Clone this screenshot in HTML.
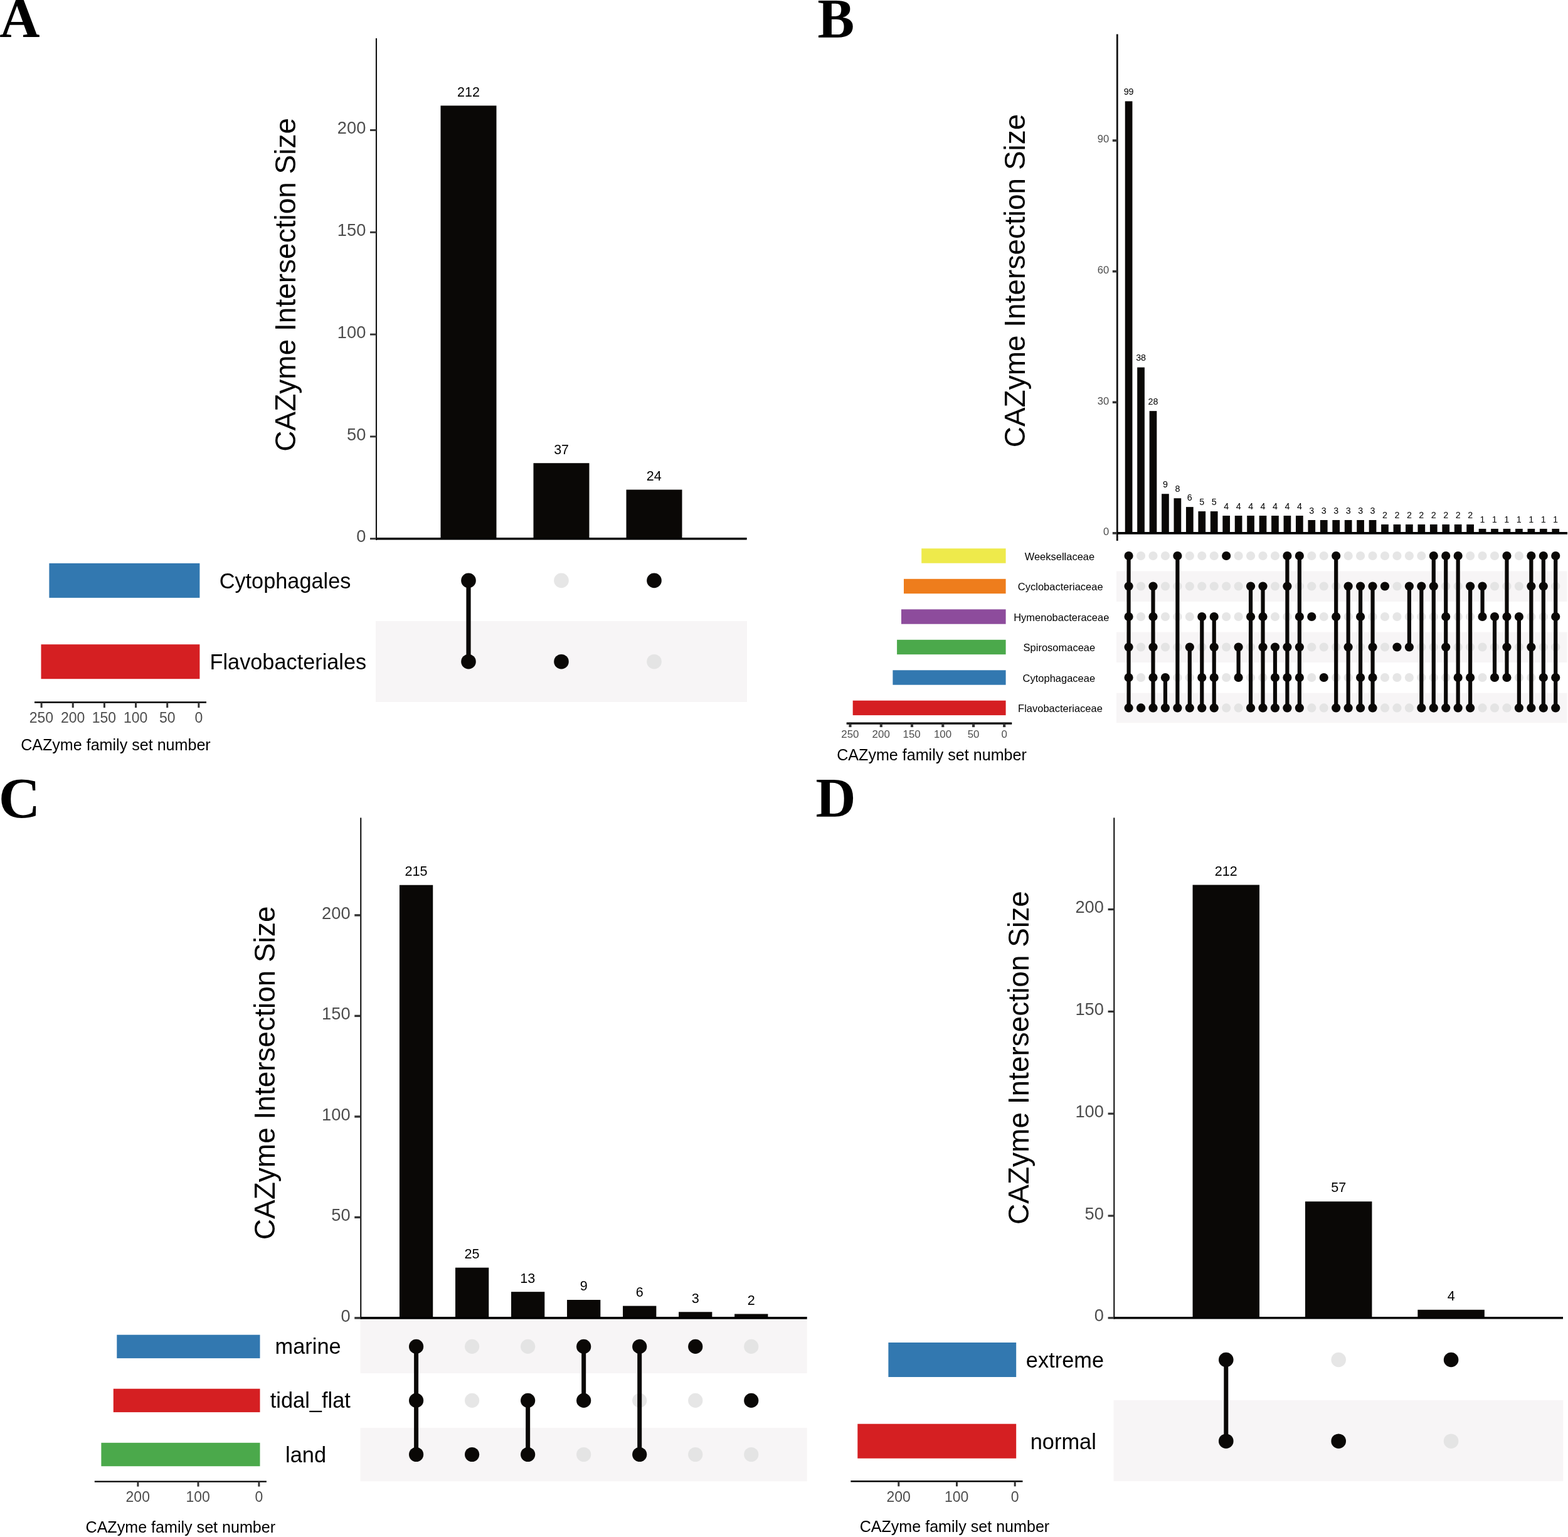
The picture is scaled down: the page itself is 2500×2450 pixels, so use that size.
<!DOCTYPE html><html><head><meta charset="utf-8"><style>html,body{margin:0;padding:0;background:#fff;}svg{display:block;}.f1{font-family:"Liberation Sans",Arial,Helvetica,sans-serif}.f2{font-family:"Liberation Serif","Times New Roman",serif;font-weight:bold}</style></head><body>
<svg width="2500" height="2450" viewBox="0 0 2500 2450">
<rect width="2500" height="2450" fill="#fff"/>
<text class="f2" x="-0.87" y="58.40" font-size="89" fill="#000">A</text>
<text class="f2" x="1303.44" y="59.30" font-size="88" fill="#000">B</text>
<text class="f2" x="-2.29" y="1302.80" font-size="92" fill="#000">C</text>
<text class="f2" x="1300.54" y="1301.20" font-size="88.5" fill="#000">D</text>
<rect x="599.00" y="990.00" width="592.00" height="129.00" fill="#f7f5f6"/>
<rect x="702.50" y="168.39" width="89.00" height="690.31" fill="#0a0806"/>
<text class="f1" x="729.06" y="153.69" font-size="21.5" fill="#000">212</text>
<rect x="850.50" y="738.22" width="89.00" height="120.48" fill="#0a0806"/>
<text class="f1" x="883.17" y="723.52" font-size="21.5" fill="#000">37</text>
<rect x="998.50" y="780.55" width="89.00" height="78.15" fill="#0a0806"/>
<text class="f1" x="1030.82" y="765.85" font-size="21.5" fill="#000">24</text>
<line x1="600.00" y1="61.00" x2="600.00" y2="861.00" stroke="#111" stroke-width="2.1"/>
<line x1="590.00" y1="858.70" x2="600.00" y2="858.70" stroke="#333333" stroke-width="2.9"/>
<text class="f1" x="568.18" y="864.40" font-size="27.3" fill="#4d4d4d">0</text>
<line x1="590.00" y1="695.89" x2="600.00" y2="695.89" stroke="#333333" stroke-width="2.9"/>
<text class="f1" x="553.00" y="701.59" font-size="27.3" fill="#4d4d4d">50</text>
<line x1="590.00" y1="533.08" x2="600.00" y2="533.08" stroke="#333333" stroke-width="2.9"/>
<text class="f1" x="537.82" y="538.78" font-size="27.3" fill="#4d4d4d">100</text>
<line x1="590.00" y1="370.27" x2="600.00" y2="370.27" stroke="#333333" stroke-width="2.9"/>
<text class="f1" x="537.82" y="375.97" font-size="27.3" fill="#4d4d4d">150</text>
<line x1="590.00" y1="207.46" x2="600.00" y2="207.46" stroke="#333333" stroke-width="2.9"/>
<text class="f1" x="537.82" y="213.16" font-size="27.3" fill="#4d4d4d">200</text>
<line x1="600.00" y1="858.70" x2="1190.70" y2="858.70" stroke="#000" stroke-width="3.4"/>
<text class="f1" x="471.30" y="719.64" font-size="46" fill="#000" transform="rotate(-90 471.30 719.64)">CAZyme Intersection Size</text>
<line x1="747.00" y1="925.40" x2="747.00" y2="1054.70" stroke="#0a0806" stroke-width="7.2"/>
<circle cx="747.00" cy="925.40" r="11.8" fill="#0a0806"/>
<circle cx="747.00" cy="1054.70" r="11.8" fill="#0a0806"/>
<circle cx="895.00" cy="925.40" r="11.8" fill="#e6e6e6"/>
<circle cx="895.00" cy="1054.70" r="11.8" fill="#0a0806"/>
<circle cx="1043.00" cy="1054.70" r="11.8" fill="#e4e4e4"/>
<circle cx="1043.00" cy="925.40" r="11.8" fill="#0a0806"/>
<rect x="78.40" y="897.90" width="240.00" height="55.00" fill="#3278b0"/>
<rect x="65.50" y="1027.20" width="252.90" height="55.00" fill="#d51f22"/>
<text class="f1" x="349.66" y="938.00" font-size="34.3" fill="#000">Cytophagales</text>
<text class="f1" x="334.49" y="1067.00" font-size="34.3" fill="#000">Flavobacteriales</text>
<line x1="55.00" y1="1119.50" x2="329.00" y2="1119.50" stroke="#000" stroke-width="2.4"/>
<line x1="66.10" y1="1119.50" x2="66.10" y2="1128.10" stroke="#333333" stroke-width="3"/>
<text class="f1" x="46.78" y="1151.80" font-size="23" fill="#4d4d4d">250</text>
<line x1="116.25" y1="1119.50" x2="116.25" y2="1128.10" stroke="#333333" stroke-width="3"/>
<text class="f1" x="96.93" y="1151.80" font-size="23" fill="#4d4d4d">200</text>
<line x1="166.40" y1="1119.50" x2="166.40" y2="1128.10" stroke="#333333" stroke-width="3"/>
<text class="f1" x="146.79" y="1151.80" font-size="23" fill="#4d4d4d">150</text>
<line x1="216.55" y1="1119.50" x2="216.55" y2="1128.10" stroke="#333333" stroke-width="3"/>
<text class="f1" x="196.94" y="1151.80" font-size="23" fill="#4d4d4d">100</text>
<line x1="266.70" y1="1119.50" x2="266.70" y2="1128.10" stroke="#333333" stroke-width="3"/>
<text class="f1" x="253.90" y="1151.80" font-size="23" fill="#4d4d4d">50</text>
<line x1="316.85" y1="1119.50" x2="316.85" y2="1128.10" stroke="#333333" stroke-width="3"/>
<text class="f1" x="310.45" y="1151.80" font-size="23" fill="#4d4d4d">0</text>
<text class="f1" x="33.13" y="1196.20" font-size="25.1" fill="#000">CAZyme family set number</text>
<rect x="1780.00" y="910.50" width="718.50" height="48.50" fill="#f7f5f6"/>
<rect x="1780.00" y="1007.60" width="718.50" height="48.40" fill="#f7f5f6"/>
<rect x="1780.00" y="1104.70" width="718.50" height="47.60" fill="#f7f5f6"/>
<rect x="1793.75" y="161.40" width="11.70" height="688.45" fill="#0a0806"/>
<text class="f1" x="1791.65" y="151.10" font-size="14.3" fill="#000">99</text>
<rect x="1813.20" y="585.60" width="11.70" height="264.25" fill="#0a0806"/>
<text class="f1" x="1811.13" y="575.30" font-size="14.3" fill="#000">38</text>
<rect x="1832.64" y="655.14" width="11.70" height="194.71" fill="#0a0806"/>
<text class="f1" x="1830.49" y="644.84" font-size="14.3" fill="#000">28</text>
<rect x="1852.09" y="787.26" width="11.70" height="62.59" fill="#0a0806"/>
<text class="f1" x="1853.97" y="776.96" font-size="14.3" fill="#000">9</text>
<rect x="1871.54" y="794.22" width="11.70" height="55.63" fill="#0a0806"/>
<text class="f1" x="1873.41" y="783.92" font-size="14.3" fill="#000">8</text>
<rect x="1890.98" y="808.13" width="11.70" height="41.72" fill="#0a0806"/>
<text class="f1" x="1892.81" y="797.83" font-size="14.3" fill="#000">6</text>
<rect x="1910.43" y="815.08" width="11.70" height="34.77" fill="#0a0806"/>
<text class="f1" x="1912.32" y="804.78" font-size="14.3" fill="#000">5</text>
<rect x="1929.88" y="815.08" width="11.70" height="34.77" fill="#0a0806"/>
<text class="f1" x="1931.77" y="804.78" font-size="14.3" fill="#000">5</text>
<rect x="1949.33" y="822.03" width="11.70" height="27.82" fill="#0a0806"/>
<text class="f1" x="1951.24" y="811.73" font-size="14.3" fill="#000">4</text>
<rect x="1968.77" y="822.03" width="11.70" height="27.82" fill="#0a0806"/>
<text class="f1" x="1970.69" y="811.73" font-size="14.3" fill="#000">4</text>
<rect x="1988.22" y="822.03" width="11.70" height="27.82" fill="#0a0806"/>
<text class="f1" x="1990.14" y="811.73" font-size="14.3" fill="#000">4</text>
<rect x="2007.67" y="822.03" width="11.70" height="27.82" fill="#0a0806"/>
<text class="f1" x="2009.59" y="811.73" font-size="14.3" fill="#000">4</text>
<rect x="2027.11" y="822.03" width="11.70" height="27.82" fill="#0a0806"/>
<text class="f1" x="2029.03" y="811.73" font-size="14.3" fill="#000">4</text>
<rect x="2046.56" y="822.03" width="11.70" height="27.82" fill="#0a0806"/>
<text class="f1" x="2048.48" y="811.73" font-size="14.3" fill="#000">4</text>
<rect x="2066.01" y="822.03" width="11.70" height="27.82" fill="#0a0806"/>
<text class="f1" x="2067.93" y="811.73" font-size="14.3" fill="#000">4</text>
<rect x="2085.45" y="828.99" width="11.70" height="20.86" fill="#0a0806"/>
<text class="f1" x="2087.37" y="818.69" font-size="14.3" fill="#000">3</text>
<rect x="2104.90" y="828.99" width="11.70" height="20.86" fill="#0a0806"/>
<text class="f1" x="2106.82" y="818.69" font-size="14.3" fill="#000">3</text>
<rect x="2124.35" y="828.99" width="11.70" height="20.86" fill="#0a0806"/>
<text class="f1" x="2126.26" y="818.69" font-size="14.3" fill="#000">3</text>
<rect x="2143.80" y="828.99" width="11.70" height="20.86" fill="#0a0806"/>
<text class="f1" x="2145.71" y="818.69" font-size="14.3" fill="#000">3</text>
<rect x="2163.24" y="828.99" width="11.70" height="20.86" fill="#0a0806"/>
<text class="f1" x="2165.16" y="818.69" font-size="14.3" fill="#000">3</text>
<rect x="2182.69" y="828.99" width="11.70" height="20.86" fill="#0a0806"/>
<text class="f1" x="2184.61" y="818.69" font-size="14.3" fill="#000">3</text>
<rect x="2202.14" y="835.94" width="11.70" height="13.91" fill="#0a0806"/>
<text class="f1" x="2204.01" y="825.64" font-size="14.3" fill="#000">2</text>
<rect x="2221.58" y="835.94" width="11.70" height="13.91" fill="#0a0806"/>
<text class="f1" x="2223.46" y="825.64" font-size="14.3" fill="#000">2</text>
<rect x="2241.03" y="835.94" width="11.70" height="13.91" fill="#0a0806"/>
<text class="f1" x="2242.90" y="825.64" font-size="14.3" fill="#000">2</text>
<rect x="2260.48" y="835.94" width="11.70" height="13.91" fill="#0a0806"/>
<text class="f1" x="2262.35" y="825.64" font-size="14.3" fill="#000">2</text>
<rect x="2279.92" y="835.94" width="11.70" height="13.91" fill="#0a0806"/>
<text class="f1" x="2281.80" y="825.64" font-size="14.3" fill="#000">2</text>
<rect x="2299.37" y="835.94" width="11.70" height="13.91" fill="#0a0806"/>
<text class="f1" x="2301.25" y="825.64" font-size="14.3" fill="#000">2</text>
<rect x="2318.82" y="835.94" width="11.70" height="13.91" fill="#0a0806"/>
<text class="f1" x="2320.69" y="825.64" font-size="14.3" fill="#000">2</text>
<rect x="2338.27" y="835.94" width="11.70" height="13.91" fill="#0a0806"/>
<text class="f1" x="2340.14" y="825.64" font-size="14.3" fill="#000">2</text>
<rect x="2357.71" y="842.90" width="11.70" height="6.95" fill="#0a0806"/>
<text class="f1" x="2359.39" y="832.60" font-size="14.3" fill="#000">1</text>
<rect x="2377.16" y="842.90" width="11.70" height="6.95" fill="#0a0806"/>
<text class="f1" x="2378.84" y="832.60" font-size="14.3" fill="#000">1</text>
<rect x="2396.61" y="842.90" width="11.70" height="6.95" fill="#0a0806"/>
<text class="f1" x="2398.29" y="832.60" font-size="14.3" fill="#000">1</text>
<rect x="2416.05" y="842.90" width="11.70" height="6.95" fill="#0a0806"/>
<text class="f1" x="2417.73" y="832.60" font-size="14.3" fill="#000">1</text>
<rect x="2435.50" y="842.90" width="11.70" height="6.95" fill="#0a0806"/>
<text class="f1" x="2437.18" y="832.60" font-size="14.3" fill="#000">1</text>
<rect x="2454.95" y="842.90" width="11.70" height="6.95" fill="#0a0806"/>
<text class="f1" x="2456.63" y="832.60" font-size="14.3" fill="#000">1</text>
<rect x="2474.39" y="842.90" width="11.70" height="6.95" fill="#0a0806"/>
<text class="f1" x="2476.07" y="832.60" font-size="14.3" fill="#000">1</text>
<line x1="1781.30" y1="54.40" x2="1781.30" y2="862.00" stroke="#111" stroke-width="2.8"/>
<line x1="1773.80" y1="849.85" x2="1781.30" y2="849.85" stroke="#333333" stroke-width="3.6"/>
<text class="f1" x="1759.02" y="853.35" font-size="16.6" fill="#4d4d4d">0</text>
<line x1="1773.80" y1="641.23" x2="1781.30" y2="641.23" stroke="#333333" stroke-width="3.6"/>
<text class="f1" x="1749.78" y="644.73" font-size="16.6" fill="#4d4d4d">30</text>
<line x1="1773.80" y1="432.61" x2="1781.30" y2="432.61" stroke="#333333" stroke-width="3.6"/>
<text class="f1" x="1749.78" y="436.11" font-size="16.6" fill="#4d4d4d">60</text>
<line x1="1773.80" y1="223.99" x2="1781.30" y2="223.99" stroke="#333333" stroke-width="3.6"/>
<text class="f1" x="1749.78" y="227.49" font-size="16.6" fill="#4d4d4d">90</text>
<line x1="1781.00" y1="849.85" x2="2499.00" y2="849.85" stroke="#000" stroke-width="3.9"/>
<text class="f1" x="1633.80" y="713.34" font-size="46" fill="#000" transform="rotate(-90 1633.80 713.34)">CAZyme Intersection Size</text>
<line x1="1799.60" y1="886.00" x2="1799.60" y2="1128.40" stroke="#0a0806" stroke-width="6.2"/>
<circle cx="1799.60" cy="886.00" r="7.1" fill="#0a0806"/>
<circle cx="1799.60" cy="934.50" r="7.1" fill="#0a0806"/>
<circle cx="1799.60" cy="983.00" r="7.1" fill="#0a0806"/>
<circle cx="1799.60" cy="1031.50" r="7.1" fill="#0a0806"/>
<circle cx="1799.60" cy="1080.00" r="7.1" fill="#0a0806"/>
<circle cx="1799.60" cy="1128.40" r="7.1" fill="#0a0806"/>
<circle cx="1819.05" cy="886.00" r="7.1" fill="#e6e6e6"/>
<circle cx="1819.05" cy="934.50" r="7.1" fill="#e4e4e4"/>
<circle cx="1819.05" cy="983.00" r="7.1" fill="#e6e6e6"/>
<circle cx="1819.05" cy="1031.50" r="7.1" fill="#e4e4e4"/>
<circle cx="1819.05" cy="1080.00" r="7.1" fill="#e6e6e6"/>
<circle cx="1819.05" cy="1128.40" r="7.1" fill="#0a0806"/>
<circle cx="1838.49" cy="886.00" r="7.1" fill="#e6e6e6"/>
<line x1="1838.49" y1="934.50" x2="1838.49" y2="1128.40" stroke="#0a0806" stroke-width="6.2"/>
<circle cx="1838.49" cy="934.50" r="7.1" fill="#0a0806"/>
<circle cx="1838.49" cy="983.00" r="7.1" fill="#0a0806"/>
<circle cx="1838.49" cy="1031.50" r="7.1" fill="#0a0806"/>
<circle cx="1838.49" cy="1080.00" r="7.1" fill="#0a0806"/>
<circle cx="1838.49" cy="1128.40" r="7.1" fill="#0a0806"/>
<circle cx="1857.94" cy="886.00" r="7.1" fill="#e6e6e6"/>
<circle cx="1857.94" cy="934.50" r="7.1" fill="#e4e4e4"/>
<circle cx="1857.94" cy="983.00" r="7.1" fill="#e6e6e6"/>
<circle cx="1857.94" cy="1031.50" r="7.1" fill="#e4e4e4"/>
<line x1="1857.94" y1="1080.00" x2="1857.94" y2="1128.40" stroke="#0a0806" stroke-width="6.2"/>
<circle cx="1857.94" cy="1080.00" r="7.1" fill="#0a0806"/>
<circle cx="1857.94" cy="1128.40" r="7.1" fill="#0a0806"/>
<circle cx="1877.39" cy="934.50" r="7.1" fill="#e4e4e4"/>
<circle cx="1877.39" cy="983.00" r="7.1" fill="#e6e6e6"/>
<circle cx="1877.39" cy="1031.50" r="7.1" fill="#e4e4e4"/>
<circle cx="1877.39" cy="1080.00" r="7.1" fill="#e6e6e6"/>
<line x1="1877.39" y1="886.00" x2="1877.39" y2="1128.40" stroke="#0a0806" stroke-width="6.2"/>
<circle cx="1877.39" cy="886.00" r="7.1" fill="#0a0806"/>
<circle cx="1877.39" cy="1128.40" r="7.1" fill="#0a0806"/>
<circle cx="1896.83" cy="886.00" r="7.1" fill="#e6e6e6"/>
<circle cx="1896.83" cy="934.50" r="7.1" fill="#e4e4e4"/>
<circle cx="1896.83" cy="983.00" r="7.1" fill="#e6e6e6"/>
<circle cx="1896.83" cy="1080.00" r="7.1" fill="#e6e6e6"/>
<line x1="1896.83" y1="1031.50" x2="1896.83" y2="1128.40" stroke="#0a0806" stroke-width="6.2"/>
<circle cx="1896.83" cy="1031.50" r="7.1" fill="#0a0806"/>
<circle cx="1896.83" cy="1128.40" r="7.1" fill="#0a0806"/>
<circle cx="1916.28" cy="886.00" r="7.1" fill="#e6e6e6"/>
<circle cx="1916.28" cy="934.50" r="7.1" fill="#e4e4e4"/>
<circle cx="1916.28" cy="1031.50" r="7.1" fill="#e4e4e4"/>
<line x1="1916.28" y1="983.00" x2="1916.28" y2="1128.40" stroke="#0a0806" stroke-width="6.2"/>
<circle cx="1916.28" cy="983.00" r="7.1" fill="#0a0806"/>
<circle cx="1916.28" cy="1080.00" r="7.1" fill="#0a0806"/>
<circle cx="1916.28" cy="1128.40" r="7.1" fill="#0a0806"/>
<circle cx="1935.73" cy="886.00" r="7.1" fill="#e6e6e6"/>
<circle cx="1935.73" cy="934.50" r="7.1" fill="#e4e4e4"/>
<line x1="1935.73" y1="983.00" x2="1935.73" y2="1128.40" stroke="#0a0806" stroke-width="6.2"/>
<circle cx="1935.73" cy="983.00" r="7.1" fill="#0a0806"/>
<circle cx="1935.73" cy="1031.50" r="7.1" fill="#0a0806"/>
<circle cx="1935.73" cy="1080.00" r="7.1" fill="#0a0806"/>
<circle cx="1935.73" cy="1128.40" r="7.1" fill="#0a0806"/>
<circle cx="1955.18" cy="934.50" r="7.1" fill="#e4e4e4"/>
<circle cx="1955.18" cy="983.00" r="7.1" fill="#e6e6e6"/>
<circle cx="1955.18" cy="1031.50" r="7.1" fill="#e4e4e4"/>
<circle cx="1955.18" cy="1080.00" r="7.1" fill="#e6e6e6"/>
<circle cx="1955.18" cy="1128.40" r="7.1" fill="#e4e4e4"/>
<circle cx="1955.18" cy="886.00" r="7.1" fill="#0a0806"/>
<circle cx="1974.62" cy="886.00" r="7.1" fill="#e6e6e6"/>
<circle cx="1974.62" cy="934.50" r="7.1" fill="#e4e4e4"/>
<circle cx="1974.62" cy="983.00" r="7.1" fill="#e6e6e6"/>
<circle cx="1974.62" cy="1128.40" r="7.1" fill="#e4e4e4"/>
<line x1="1974.62" y1="1031.50" x2="1974.62" y2="1080.00" stroke="#0a0806" stroke-width="6.2"/>
<circle cx="1974.62" cy="1031.50" r="7.1" fill="#0a0806"/>
<circle cx="1974.62" cy="1080.00" r="7.1" fill="#0a0806"/>
<circle cx="1994.07" cy="886.00" r="7.1" fill="#e6e6e6"/>
<circle cx="1994.07" cy="1031.50" r="7.1" fill="#e4e4e4"/>
<circle cx="1994.07" cy="1080.00" r="7.1" fill="#e6e6e6"/>
<line x1="1994.07" y1="934.50" x2="1994.07" y2="1128.40" stroke="#0a0806" stroke-width="6.2"/>
<circle cx="1994.07" cy="934.50" r="7.1" fill="#0a0806"/>
<circle cx="1994.07" cy="983.00" r="7.1" fill="#0a0806"/>
<circle cx="1994.07" cy="1128.40" r="7.1" fill="#0a0806"/>
<circle cx="2013.52" cy="886.00" r="7.1" fill="#e6e6e6"/>
<circle cx="2013.52" cy="1080.00" r="7.1" fill="#e6e6e6"/>
<line x1="2013.52" y1="934.50" x2="2013.52" y2="1128.40" stroke="#0a0806" stroke-width="6.2"/>
<circle cx="2013.52" cy="934.50" r="7.1" fill="#0a0806"/>
<circle cx="2013.52" cy="983.00" r="7.1" fill="#0a0806"/>
<circle cx="2013.52" cy="1031.50" r="7.1" fill="#0a0806"/>
<circle cx="2013.52" cy="1128.40" r="7.1" fill="#0a0806"/>
<circle cx="2032.96" cy="886.00" r="7.1" fill="#e6e6e6"/>
<circle cx="2032.96" cy="934.50" r="7.1" fill="#e4e4e4"/>
<circle cx="2032.96" cy="983.00" r="7.1" fill="#e6e6e6"/>
<line x1="2032.96" y1="1031.50" x2="2032.96" y2="1128.40" stroke="#0a0806" stroke-width="6.2"/>
<circle cx="2032.96" cy="1031.50" r="7.1" fill="#0a0806"/>
<circle cx="2032.96" cy="1080.00" r="7.1" fill="#0a0806"/>
<circle cx="2032.96" cy="1128.40" r="7.1" fill="#0a0806"/>
<circle cx="2052.41" cy="983.00" r="7.1" fill="#e6e6e6"/>
<line x1="2052.41" y1="886.00" x2="2052.41" y2="1128.40" stroke="#0a0806" stroke-width="6.2"/>
<circle cx="2052.41" cy="886.00" r="7.1" fill="#0a0806"/>
<circle cx="2052.41" cy="934.50" r="7.1" fill="#0a0806"/>
<circle cx="2052.41" cy="1031.50" r="7.1" fill="#0a0806"/>
<circle cx="2052.41" cy="1080.00" r="7.1" fill="#0a0806"/>
<circle cx="2052.41" cy="1128.40" r="7.1" fill="#0a0806"/>
<circle cx="2071.86" cy="934.50" r="7.1" fill="#e4e4e4"/>
<line x1="2071.86" y1="886.00" x2="2071.86" y2="1128.40" stroke="#0a0806" stroke-width="6.2"/>
<circle cx="2071.86" cy="886.00" r="7.1" fill="#0a0806"/>
<circle cx="2071.86" cy="983.00" r="7.1" fill="#0a0806"/>
<circle cx="2071.86" cy="1031.50" r="7.1" fill="#0a0806"/>
<circle cx="2071.86" cy="1080.00" r="7.1" fill="#0a0806"/>
<circle cx="2071.86" cy="1128.40" r="7.1" fill="#0a0806"/>
<circle cx="2091.30" cy="886.00" r="7.1" fill="#e6e6e6"/>
<circle cx="2091.30" cy="934.50" r="7.1" fill="#e4e4e4"/>
<circle cx="2091.30" cy="1031.50" r="7.1" fill="#e4e4e4"/>
<circle cx="2091.30" cy="1080.00" r="7.1" fill="#e6e6e6"/>
<circle cx="2091.30" cy="1128.40" r="7.1" fill="#e4e4e4"/>
<circle cx="2091.30" cy="983.00" r="7.1" fill="#0a0806"/>
<circle cx="2110.75" cy="886.00" r="7.1" fill="#e6e6e6"/>
<circle cx="2110.75" cy="934.50" r="7.1" fill="#e4e4e4"/>
<circle cx="2110.75" cy="983.00" r="7.1" fill="#e6e6e6"/>
<circle cx="2110.75" cy="1031.50" r="7.1" fill="#e4e4e4"/>
<circle cx="2110.75" cy="1128.40" r="7.1" fill="#e4e4e4"/>
<circle cx="2110.75" cy="1080.00" r="7.1" fill="#0a0806"/>
<circle cx="2130.20" cy="934.50" r="7.1" fill="#e4e4e4"/>
<circle cx="2130.20" cy="1031.50" r="7.1" fill="#e4e4e4"/>
<circle cx="2130.20" cy="1080.00" r="7.1" fill="#e6e6e6"/>
<line x1="2130.20" y1="886.00" x2="2130.20" y2="1128.40" stroke="#0a0806" stroke-width="6.2"/>
<circle cx="2130.20" cy="886.00" r="7.1" fill="#0a0806"/>
<circle cx="2130.20" cy="983.00" r="7.1" fill="#0a0806"/>
<circle cx="2130.20" cy="1128.40" r="7.1" fill="#0a0806"/>
<circle cx="2149.65" cy="886.00" r="7.1" fill="#e6e6e6"/>
<circle cx="2149.65" cy="983.00" r="7.1" fill="#e6e6e6"/>
<circle cx="2149.65" cy="1080.00" r="7.1" fill="#e6e6e6"/>
<line x1="2149.65" y1="934.50" x2="2149.65" y2="1128.40" stroke="#0a0806" stroke-width="6.2"/>
<circle cx="2149.65" cy="934.50" r="7.1" fill="#0a0806"/>
<circle cx="2149.65" cy="1031.50" r="7.1" fill="#0a0806"/>
<circle cx="2149.65" cy="1128.40" r="7.1" fill="#0a0806"/>
<circle cx="2169.09" cy="886.00" r="7.1" fill="#e6e6e6"/>
<circle cx="2169.09" cy="1031.50" r="7.1" fill="#e4e4e4"/>
<line x1="2169.09" y1="934.50" x2="2169.09" y2="1128.40" stroke="#0a0806" stroke-width="6.2"/>
<circle cx="2169.09" cy="934.50" r="7.1" fill="#0a0806"/>
<circle cx="2169.09" cy="983.00" r="7.1" fill="#0a0806"/>
<circle cx="2169.09" cy="1080.00" r="7.1" fill="#0a0806"/>
<circle cx="2169.09" cy="1128.40" r="7.1" fill="#0a0806"/>
<circle cx="2188.54" cy="886.00" r="7.1" fill="#e6e6e6"/>
<circle cx="2188.54" cy="983.00" r="7.1" fill="#e6e6e6"/>
<line x1="2188.54" y1="934.50" x2="2188.54" y2="1128.40" stroke="#0a0806" stroke-width="6.2"/>
<circle cx="2188.54" cy="934.50" r="7.1" fill="#0a0806"/>
<circle cx="2188.54" cy="1031.50" r="7.1" fill="#0a0806"/>
<circle cx="2188.54" cy="1080.00" r="7.1" fill="#0a0806"/>
<circle cx="2188.54" cy="1128.40" r="7.1" fill="#0a0806"/>
<circle cx="2207.99" cy="886.00" r="7.1" fill="#e6e6e6"/>
<circle cx="2207.99" cy="983.00" r="7.1" fill="#e6e6e6"/>
<circle cx="2207.99" cy="1031.50" r="7.1" fill="#e4e4e4"/>
<circle cx="2207.99" cy="1080.00" r="7.1" fill="#e6e6e6"/>
<circle cx="2207.99" cy="1128.40" r="7.1" fill="#e4e4e4"/>
<circle cx="2207.99" cy="934.50" r="7.1" fill="#0a0806"/>
<circle cx="2227.43" cy="886.00" r="7.1" fill="#e6e6e6"/>
<circle cx="2227.43" cy="934.50" r="7.1" fill="#e4e4e4"/>
<circle cx="2227.43" cy="983.00" r="7.1" fill="#e6e6e6"/>
<circle cx="2227.43" cy="1080.00" r="7.1" fill="#e6e6e6"/>
<circle cx="2227.43" cy="1128.40" r="7.1" fill="#e4e4e4"/>
<circle cx="2227.43" cy="1031.50" r="7.1" fill="#0a0806"/>
<circle cx="2246.88" cy="886.00" r="7.1" fill="#e6e6e6"/>
<circle cx="2246.88" cy="983.00" r="7.1" fill="#e6e6e6"/>
<circle cx="2246.88" cy="1080.00" r="7.1" fill="#e6e6e6"/>
<circle cx="2246.88" cy="1128.40" r="7.1" fill="#e4e4e4"/>
<line x1="2246.88" y1="934.50" x2="2246.88" y2="1031.50" stroke="#0a0806" stroke-width="6.2"/>
<circle cx="2246.88" cy="934.50" r="7.1" fill="#0a0806"/>
<circle cx="2246.88" cy="1031.50" r="7.1" fill="#0a0806"/>
<circle cx="2266.33" cy="886.00" r="7.1" fill="#e6e6e6"/>
<circle cx="2266.33" cy="983.00" r="7.1" fill="#e6e6e6"/>
<circle cx="2266.33" cy="1031.50" r="7.1" fill="#e4e4e4"/>
<circle cx="2266.33" cy="1080.00" r="7.1" fill="#e6e6e6"/>
<line x1="2266.33" y1="934.50" x2="2266.33" y2="1128.40" stroke="#0a0806" stroke-width="6.2"/>
<circle cx="2266.33" cy="934.50" r="7.1" fill="#0a0806"/>
<circle cx="2266.33" cy="1128.40" r="7.1" fill="#0a0806"/>
<circle cx="2285.77" cy="983.00" r="7.1" fill="#e6e6e6"/>
<circle cx="2285.77" cy="1031.50" r="7.1" fill="#e4e4e4"/>
<circle cx="2285.77" cy="1080.00" r="7.1" fill="#e6e6e6"/>
<line x1="2285.77" y1="886.00" x2="2285.77" y2="1128.40" stroke="#0a0806" stroke-width="6.2"/>
<circle cx="2285.77" cy="886.00" r="7.1" fill="#0a0806"/>
<circle cx="2285.77" cy="934.50" r="7.1" fill="#0a0806"/>
<circle cx="2285.77" cy="1128.40" r="7.1" fill="#0a0806"/>
<circle cx="2305.22" cy="934.50" r="7.1" fill="#e4e4e4"/>
<circle cx="2305.22" cy="1080.00" r="7.1" fill="#e6e6e6"/>
<line x1="2305.22" y1="886.00" x2="2305.22" y2="1128.40" stroke="#0a0806" stroke-width="6.2"/>
<circle cx="2305.22" cy="886.00" r="7.1" fill="#0a0806"/>
<circle cx="2305.22" cy="983.00" r="7.1" fill="#0a0806"/>
<circle cx="2305.22" cy="1031.50" r="7.1" fill="#0a0806"/>
<circle cx="2305.22" cy="1128.40" r="7.1" fill="#0a0806"/>
<circle cx="2324.67" cy="934.50" r="7.1" fill="#e4e4e4"/>
<circle cx="2324.67" cy="983.00" r="7.1" fill="#e6e6e6"/>
<circle cx="2324.67" cy="1031.50" r="7.1" fill="#e4e4e4"/>
<line x1="2324.67" y1="886.00" x2="2324.67" y2="1128.40" stroke="#0a0806" stroke-width="6.2"/>
<circle cx="2324.67" cy="886.00" r="7.1" fill="#0a0806"/>
<circle cx="2324.67" cy="1080.00" r="7.1" fill="#0a0806"/>
<circle cx="2324.67" cy="1128.40" r="7.1" fill="#0a0806"/>
<circle cx="2344.12" cy="886.00" r="7.1" fill="#e6e6e6"/>
<circle cx="2344.12" cy="983.00" r="7.1" fill="#e6e6e6"/>
<circle cx="2344.12" cy="1031.50" r="7.1" fill="#e4e4e4"/>
<line x1="2344.12" y1="934.50" x2="2344.12" y2="1128.40" stroke="#0a0806" stroke-width="6.2"/>
<circle cx="2344.12" cy="934.50" r="7.1" fill="#0a0806"/>
<circle cx="2344.12" cy="1080.00" r="7.1" fill="#0a0806"/>
<circle cx="2344.12" cy="1128.40" r="7.1" fill="#0a0806"/>
<circle cx="2363.56" cy="886.00" r="7.1" fill="#e6e6e6"/>
<circle cx="2363.56" cy="1031.50" r="7.1" fill="#e4e4e4"/>
<circle cx="2363.56" cy="1080.00" r="7.1" fill="#e6e6e6"/>
<circle cx="2363.56" cy="1128.40" r="7.1" fill="#e4e4e4"/>
<line x1="2363.56" y1="934.50" x2="2363.56" y2="983.00" stroke="#0a0806" stroke-width="6.2"/>
<circle cx="2363.56" cy="934.50" r="7.1" fill="#0a0806"/>
<circle cx="2363.56" cy="983.00" r="7.1" fill="#0a0806"/>
<circle cx="2383.01" cy="886.00" r="7.1" fill="#e6e6e6"/>
<circle cx="2383.01" cy="934.50" r="7.1" fill="#e4e4e4"/>
<circle cx="2383.01" cy="1031.50" r="7.1" fill="#e4e4e4"/>
<circle cx="2383.01" cy="1128.40" r="7.1" fill="#e4e4e4"/>
<line x1="2383.01" y1="983.00" x2="2383.01" y2="1080.00" stroke="#0a0806" stroke-width="6.2"/>
<circle cx="2383.01" cy="983.00" r="7.1" fill="#0a0806"/>
<circle cx="2383.01" cy="1080.00" r="7.1" fill="#0a0806"/>
<circle cx="2402.46" cy="934.50" r="7.1" fill="#e4e4e4"/>
<circle cx="2402.46" cy="1128.40" r="7.1" fill="#e4e4e4"/>
<line x1="2402.46" y1="886.00" x2="2402.46" y2="1080.00" stroke="#0a0806" stroke-width="6.2"/>
<circle cx="2402.46" cy="886.00" r="7.1" fill="#0a0806"/>
<circle cx="2402.46" cy="983.00" r="7.1" fill="#0a0806"/>
<circle cx="2402.46" cy="1031.50" r="7.1" fill="#0a0806"/>
<circle cx="2402.46" cy="1080.00" r="7.1" fill="#0a0806"/>
<circle cx="2421.90" cy="886.00" r="7.1" fill="#e6e6e6"/>
<circle cx="2421.90" cy="934.50" r="7.1" fill="#e4e4e4"/>
<circle cx="2421.90" cy="1031.50" r="7.1" fill="#e4e4e4"/>
<circle cx="2421.90" cy="1080.00" r="7.1" fill="#e6e6e6"/>
<line x1="2421.90" y1="983.00" x2="2421.90" y2="1128.40" stroke="#0a0806" stroke-width="6.2"/>
<circle cx="2421.90" cy="983.00" r="7.1" fill="#0a0806"/>
<circle cx="2421.90" cy="1128.40" r="7.1" fill="#0a0806"/>
<circle cx="2441.35" cy="983.00" r="7.1" fill="#e6e6e6"/>
<circle cx="2441.35" cy="1080.00" r="7.1" fill="#e6e6e6"/>
<line x1="2441.35" y1="886.00" x2="2441.35" y2="1128.40" stroke="#0a0806" stroke-width="6.2"/>
<circle cx="2441.35" cy="886.00" r="7.1" fill="#0a0806"/>
<circle cx="2441.35" cy="934.50" r="7.1" fill="#0a0806"/>
<circle cx="2441.35" cy="1031.50" r="7.1" fill="#0a0806"/>
<circle cx="2441.35" cy="1128.40" r="7.1" fill="#0a0806"/>
<circle cx="2460.80" cy="983.00" r="7.1" fill="#e6e6e6"/>
<circle cx="2460.80" cy="1031.50" r="7.1" fill="#e4e4e4"/>
<line x1="2460.80" y1="886.00" x2="2460.80" y2="1128.40" stroke="#0a0806" stroke-width="6.2"/>
<circle cx="2460.80" cy="886.00" r="7.1" fill="#0a0806"/>
<circle cx="2460.80" cy="934.50" r="7.1" fill="#0a0806"/>
<circle cx="2460.80" cy="1080.00" r="7.1" fill="#0a0806"/>
<circle cx="2460.80" cy="1128.40" r="7.1" fill="#0a0806"/>
<circle cx="2480.24" cy="934.50" r="7.1" fill="#e4e4e4"/>
<circle cx="2480.24" cy="1031.50" r="7.1" fill="#e4e4e4"/>
<line x1="2480.24" y1="886.00" x2="2480.24" y2="1128.40" stroke="#0a0806" stroke-width="6.2"/>
<circle cx="2480.24" cy="886.00" r="7.1" fill="#0a0806"/>
<circle cx="2480.24" cy="983.00" r="7.1" fill="#0a0806"/>
<circle cx="2480.24" cy="1080.00" r="7.1" fill="#0a0806"/>
<circle cx="2480.24" cy="1128.40" r="7.1" fill="#0a0806"/>
<rect x="1469.20" y="874.30" width="134.40" height="23.40" fill="#eeea4b"/>
<rect x="1441.00" y="922.80" width="162.60" height="23.40" fill="#ee7d1c"/>
<rect x="1437.00" y="971.30" width="166.60" height="23.40" fill="#8d4c9c"/>
<rect x="1430.10" y="1019.80" width="173.50" height="23.40" fill="#4ba94b"/>
<rect x="1423.40" y="1068.30" width="180.20" height="23.40" fill="#3278b0"/>
<rect x="1359.70" y="1116.70" width="243.90" height="23.40" fill="#d51f22"/>
<text class="f1" x="1633.63" y="892.90" font-size="16.5" fill="#000">Weeksellaceae</text>
<text class="f1" x="1622.86" y="941.40" font-size="16.5" fill="#000">Cyclobacteriaceae</text>
<text class="f1" x="1616.15" y="989.90" font-size="16.5" fill="#000">Hymenobacteraceae</text>
<text class="f1" x="1631.55" y="1038.40" font-size="16.5" fill="#000">Spirosomaceae</text>
<text class="f1" x="1630.56" y="1086.90" font-size="16.5" fill="#000">Cytophagaceae</text>
<text class="f1" x="1623.05" y="1135.30" font-size="16.5" fill="#000">Flavobacteriaceae</text>
<line x1="1349.70" y1="1153.10" x2="1613.30" y2="1153.10" stroke="#000" stroke-width="3.2"/>
<line x1="1355.50" y1="1153.10" x2="1355.50" y2="1159.10" stroke="#333333" stroke-width="4.2"/>
<text class="f1" x="1341.31" y="1176.10" font-size="16.9" fill="#4d4d4d">250</text>
<line x1="1404.80" y1="1153.10" x2="1404.80" y2="1159.10" stroke="#333333" stroke-width="4.2"/>
<text class="f1" x="1390.61" y="1176.10" font-size="16.9" fill="#4d4d4d">200</text>
<line x1="1454.00" y1="1153.10" x2="1454.00" y2="1159.10" stroke="#333333" stroke-width="4.2"/>
<text class="f1" x="1439.59" y="1176.10" font-size="16.9" fill="#4d4d4d">150</text>
<line x1="1503.30" y1="1153.10" x2="1503.30" y2="1159.10" stroke="#333333" stroke-width="4.2"/>
<text class="f1" x="1488.89" y="1176.10" font-size="16.9" fill="#4d4d4d">100</text>
<line x1="1552.10" y1="1153.10" x2="1552.10" y2="1159.10" stroke="#333333" stroke-width="4.2"/>
<text class="f1" x="1542.69" y="1176.10" font-size="16.9" fill="#4d4d4d">50</text>
<line x1="1601.20" y1="1153.10" x2="1601.20" y2="1159.10" stroke="#333333" stroke-width="4.2"/>
<text class="f1" x="1596.50" y="1176.10" font-size="16.9" fill="#4d4d4d">0</text>
<text class="f1" x="1334.23" y="1212.00" font-size="25.1" fill="#000">CAZyme family set number</text>
<rect x="574.50" y="2103.30" width="712.20" height="85.70" fill="#f7f5f6"/>
<rect x="574.50" y="2275.90" width="712.20" height="85.30" fill="#f7f5f6"/>
<rect x="636.95" y="1410.75" width="53.30" height="690.15" fill="#0a0806"/>
<text class="f1" x="645.49" y="1396.15" font-size="21.6" fill="#000">215</text>
<rect x="725.98" y="2020.65" width="53.30" height="80.25" fill="#0a0806"/>
<text class="f1" x="740.53" y="2006.05" font-size="21.6" fill="#000">25</text>
<rect x="815.01" y="2059.17" width="53.30" height="41.73" fill="#0a0806"/>
<text class="f1" x="829.30" y="2044.57" font-size="21.6" fill="#000">13</text>
<rect x="904.04" y="2072.01" width="53.30" height="28.89" fill="#0a0806"/>
<text class="f1" x="924.69" y="2057.41" font-size="21.6" fill="#000">9</text>
<rect x="993.07" y="2081.64" width="53.30" height="19.26" fill="#0a0806"/>
<text class="f1" x="1013.64" y="2067.04" font-size="21.6" fill="#000">6</text>
<rect x="1082.10" y="2091.27" width="53.30" height="9.63" fill="#0a0806"/>
<text class="f1" x="1102.81" y="2076.67" font-size="21.6" fill="#000">3</text>
<rect x="1171.13" y="2094.48" width="53.30" height="6.42" fill="#0a0806"/>
<text class="f1" x="1191.77" y="2079.88" font-size="21.6" fill="#000">2</text>
<line x1="575.25" y1="1303.50" x2="575.25" y2="2102.50" stroke="#111" stroke-width="2.1"/>
<line x1="565.25" y1="2100.90" x2="575.25" y2="2100.90" stroke="#333333" stroke-width="3.4"/>
<text class="f1" x="543.43" y="2106.50" font-size="27.3" fill="#4d4d4d">0</text>
<line x1="565.25" y1="1940.40" x2="575.25" y2="1940.40" stroke="#333333" stroke-width="3.4"/>
<text class="f1" x="528.25" y="1946.00" font-size="27.3" fill="#4d4d4d">50</text>
<line x1="565.25" y1="1779.90" x2="575.25" y2="1779.90" stroke="#333333" stroke-width="3.4"/>
<text class="f1" x="513.07" y="1785.50" font-size="27.3" fill="#4d4d4d">100</text>
<line x1="565.25" y1="1619.40" x2="575.25" y2="1619.40" stroke="#333333" stroke-width="3.4"/>
<text class="f1" x="513.07" y="1625.00" font-size="27.3" fill="#4d4d4d">150</text>
<line x1="565.25" y1="1458.90" x2="575.25" y2="1458.90" stroke="#333333" stroke-width="3.4"/>
<text class="f1" x="513.07" y="1464.50" font-size="27.3" fill="#4d4d4d">200</text>
<line x1="575.00" y1="2100.90" x2="1286.70" y2="2100.90" stroke="#000" stroke-width="3.6"/>
<text class="f1" x="438.00" y="1976.14" font-size="46" fill="#000" transform="rotate(-90 438.00 1976.14)">CAZyme Intersection Size</text>
<line x1="663.60" y1="2146.40" x2="663.60" y2="2318.50" stroke="#0a0806" stroke-width="7.0"/>
<circle cx="663.60" cy="2146.40" r="11.6" fill="#0a0806"/>
<circle cx="663.60" cy="2232.40" r="11.6" fill="#0a0806"/>
<circle cx="663.60" cy="2318.50" r="11.6" fill="#0a0806"/>
<circle cx="752.63" cy="2146.40" r="11.6" fill="#e4e4e4"/>
<circle cx="752.63" cy="2232.40" r="11.6" fill="#e6e6e6"/>
<circle cx="752.63" cy="2318.50" r="11.6" fill="#0a0806"/>
<circle cx="841.66" cy="2146.40" r="11.6" fill="#e4e4e4"/>
<line x1="841.66" y1="2232.40" x2="841.66" y2="2318.50" stroke="#0a0806" stroke-width="7.0"/>
<circle cx="841.66" cy="2232.40" r="11.6" fill="#0a0806"/>
<circle cx="841.66" cy="2318.50" r="11.6" fill="#0a0806"/>
<circle cx="930.69" cy="2318.50" r="11.6" fill="#e4e4e4"/>
<line x1="930.69" y1="2146.40" x2="930.69" y2="2232.40" stroke="#0a0806" stroke-width="7.0"/>
<circle cx="930.69" cy="2146.40" r="11.6" fill="#0a0806"/>
<circle cx="930.69" cy="2232.40" r="11.6" fill="#0a0806"/>
<circle cx="1019.72" cy="2232.40" r="11.6" fill="#e6e6e6"/>
<line x1="1019.72" y1="2146.40" x2="1019.72" y2="2318.50" stroke="#0a0806" stroke-width="7.0"/>
<circle cx="1019.72" cy="2146.40" r="11.6" fill="#0a0806"/>
<circle cx="1019.72" cy="2318.50" r="11.6" fill="#0a0806"/>
<circle cx="1108.75" cy="2232.40" r="11.6" fill="#e6e6e6"/>
<circle cx="1108.75" cy="2318.50" r="11.6" fill="#e4e4e4"/>
<circle cx="1108.75" cy="2146.40" r="11.6" fill="#0a0806"/>
<circle cx="1197.78" cy="2146.40" r="11.6" fill="#e4e4e4"/>
<circle cx="1197.78" cy="2318.50" r="11.6" fill="#e4e4e4"/>
<circle cx="1197.78" cy="2232.40" r="11.6" fill="#0a0806"/>
<rect x="186.30" y="2127.70" width="228.20" height="37.40" fill="#3278b0"/>
<rect x="180.80" y="2213.70" width="233.70" height="37.40" fill="#d51f22"/>
<rect x="161.40" y="2299.80" width="253.10" height="37.40" fill="#4ba94b"/>
<text class="f1" x="438.52" y="2158.00" font-size="34.4" fill="#000">marine</text>
<text class="f1" x="430.78" y="2244.40" font-size="34.4" fill="#000">tidal_flat</text>
<text class="f1" x="455.08" y="2330.80" font-size="34.4" fill="#000">land</text>
<line x1="150.80" y1="2361.60" x2="424.90" y2="2361.60" stroke="#000" stroke-width="2.4"/>
<line x1="219.90" y1="2361.60" x2="219.90" y2="2369.60" stroke="#333333" stroke-width="3"/>
<text class="f1" x="200.58" y="2394.30" font-size="23" fill="#4d4d4d">200</text>
<line x1="316.00" y1="2361.60" x2="316.00" y2="2369.60" stroke="#333333" stroke-width="3"/>
<text class="f1" x="296.39" y="2394.30" font-size="23" fill="#4d4d4d">100</text>
<line x1="412.90" y1="2361.60" x2="412.90" y2="2369.60" stroke="#333333" stroke-width="3"/>
<text class="f1" x="406.50" y="2394.30" font-size="23" fill="#4d4d4d">0</text>
<text class="f1" x="136.53" y="2443.30" font-size="25.1" fill="#000">CAZyme family set number</text>
<rect x="1775.50" y="2232.00" width="716.80" height="129.00" fill="#f7f5f6"/>
<rect x="1901.55" y="1410.53" width="106.50" height="690.27" fill="#0a0806"/>
<text class="f1" x="1936.78" y="1395.53" font-size="21.6" fill="#000">212</text>
<rect x="2080.95" y="1915.21" width="106.50" height="185.59" fill="#0a0806"/>
<text class="f1" x="2122.30" y="1900.21" font-size="21.6" fill="#000">57</text>
<rect x="2260.35" y="2087.78" width="106.50" height="13.02" fill="#0a0806"/>
<text class="f1" x="2307.66" y="2072.78" font-size="21.6" fill="#000">4</text>
<line x1="1776.30" y1="1303.50" x2="1776.30" y2="2102.50" stroke="#111" stroke-width="2.1"/>
<line x1="1766.60" y1="2100.80" x2="1776.30" y2="2100.80" stroke="#333333" stroke-width="3.2"/>
<text class="f1" x="1744.78" y="2106.40" font-size="27.3" fill="#4d4d4d">0</text>
<line x1="1766.60" y1="1938.00" x2="1776.30" y2="1938.00" stroke="#333333" stroke-width="3.2"/>
<text class="f1" x="1729.60" y="1943.60" font-size="27.3" fill="#4d4d4d">50</text>
<line x1="1766.60" y1="1775.20" x2="1776.30" y2="1775.20" stroke="#333333" stroke-width="3.2"/>
<text class="f1" x="1714.42" y="1780.80" font-size="27.3" fill="#4d4d4d">100</text>
<line x1="1766.60" y1="1612.40" x2="1776.30" y2="1612.40" stroke="#333333" stroke-width="3.2"/>
<text class="f1" x="1714.42" y="1618.00" font-size="27.3" fill="#4d4d4d">150</text>
<line x1="1766.60" y1="1449.60" x2="1776.30" y2="1449.60" stroke="#333333" stroke-width="3.2"/>
<text class="f1" x="1714.42" y="1455.20" font-size="27.3" fill="#4d4d4d">200</text>
<line x1="1776.00" y1="2100.80" x2="2492.00" y2="2100.80" stroke="#000" stroke-width="3.6"/>
<text class="f1" x="1639.80" y="1951.94" font-size="46" fill="#000" transform="rotate(-90 1639.80 1951.94)">CAZyme Intersection Size</text>
<line x1="1954.80" y1="2167.50" x2="1954.80" y2="2297.20" stroke="#0a0806" stroke-width="7.0"/>
<circle cx="1954.80" cy="2167.50" r="11.8" fill="#0a0806"/>
<circle cx="1954.80" cy="2297.20" r="11.8" fill="#0a0806"/>
<circle cx="2134.20" cy="2167.50" r="11.8" fill="#e6e6e6"/>
<circle cx="2134.20" cy="2297.20" r="11.8" fill="#0a0806"/>
<circle cx="2313.60" cy="2297.20" r="11.8" fill="#e4e4e4"/>
<circle cx="2313.60" cy="2167.50" r="11.8" fill="#0a0806"/>
<rect x="1416.40" y="2140.00" width="203.80" height="55.00" fill="#3278b0"/>
<rect x="1367.30" y="2269.70" width="252.90" height="55.00" fill="#d51f22"/>
<text class="f1" x="1635.84" y="2179.90" font-size="34.4" fill="#000">extreme</text>
<text class="f1" x="1642.72" y="2309.50" font-size="34.4" fill="#000">normal</text>
<line x1="1356.40" y1="2361.30" x2="1630.50" y2="2361.30" stroke="#000" stroke-width="2.4"/>
<line x1="1432.80" y1="2361.30" x2="1432.80" y2="2369.30" stroke="#333333" stroke-width="3"/>
<text class="f1" x="1413.48" y="2394.00" font-size="23" fill="#4d4d4d">200</text>
<line x1="1525.50" y1="2361.30" x2="1525.50" y2="2369.30" stroke="#333333" stroke-width="3"/>
<text class="f1" x="1505.89" y="2394.00" font-size="23" fill="#4d4d4d">100</text>
<line x1="1618.20" y1="2361.30" x2="1618.20" y2="2369.30" stroke="#333333" stroke-width="3"/>
<text class="f1" x="1611.80" y="2394.00" font-size="23" fill="#4d4d4d">0</text>
<text class="f1" x="1370.63" y="2441.50" font-size="25.1" fill="#000">CAZyme family set number</text>
</svg></body></html>
